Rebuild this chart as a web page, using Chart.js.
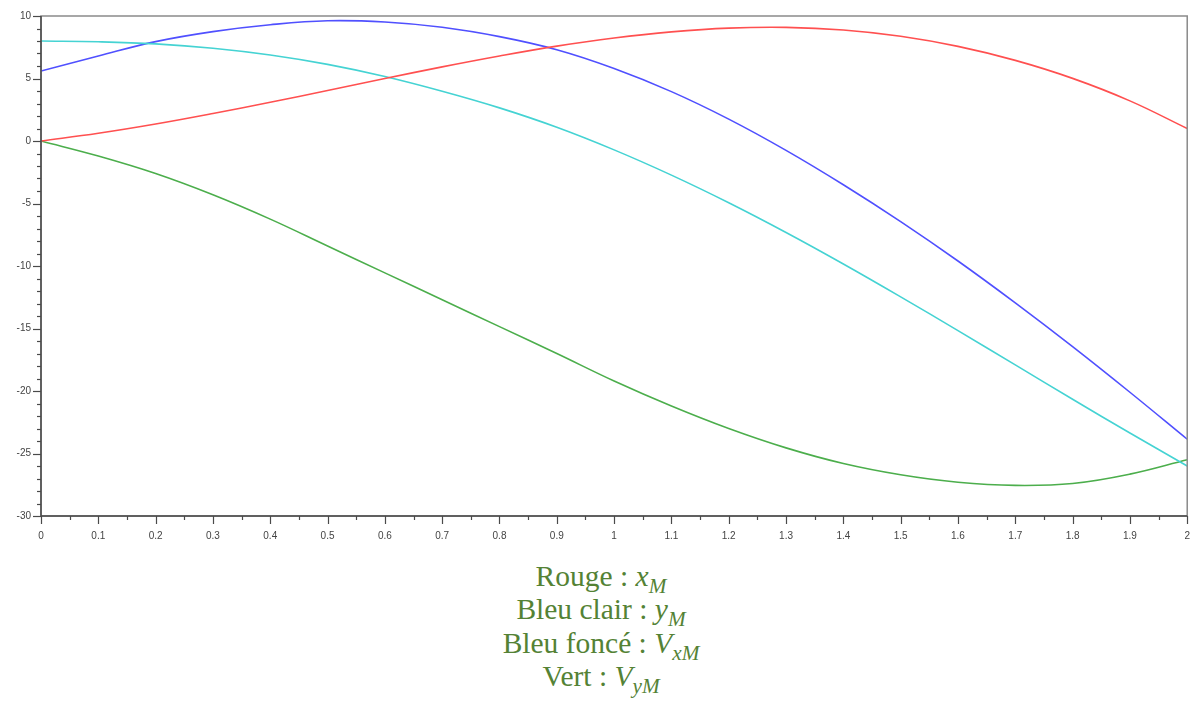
<!DOCTYPE html>
<html>
<head>
<meta charset="utf-8">
<script src="https://cdn.jsdelivr.net/npm/chart.js@4.4.1/dist/chart.umd.min.js"></script>
<style>
  body { margin: 0; background: #fff; width: 1196px; height: 711px; overflow: hidden; position: relative; }
  #wrap { position: absolute; left: 0; top: 0; width: 1204px; height: 556px; }
  #legend { position: absolute; left: 3px; top: 560px; width: 1196px; text-align: center;
            font-family: "Liberation Serif", serif; font-size: 29.5px; line-height: 33.3px; color: #548235; }
  #legend i { font-style: italic; }
  #legend sub { font-size: 72%; vertical-align: -0.35em; line-height: 0; font-style: italic; }
</style>
</head>
<body>
<div id="wrap"><canvas id="chart"></canvas></div>
<div id="legend">
  <div>Rouge : <i>x</i><sub>M</sub></div>
  <div>Bleu clair : <i>y</i><sub>M</sub></div>
  <div>Bleu foncé : <i>V</i><sub>xM</sub></div>
  <div>Vert : <i>V</i><sub>yM</sub></div>
</div>
<script>
// time (s)
var t = [0, 0.1, 0.2, 0.3, 0.4, 0.5, 0.6, 0.7, 0.8, 0.9, 1, 1.1, 1.2, 1.3, 1.4, 1.5, 1.6, 1.7, 1.8, 1.9, 2];

// values
var xM  = [0, 0.62, 1.36, 2.2, 3.1, 4.04, 5.0, 5.93, 6.8, 7.59, 8.24, 8.73, 9.03, 9.09, 8.88, 8.38, 7.57, 6.45, 5.01, 3.21, 1.0];
var yM  = [8.0, 7.94, 7.77, 7.42, 6.88, 6.13, 5.16, 3.98, 2.65, 1.1, -0.71, -2.73, -4.94, -7.32, -9.84, -12.47, -15.17, -17.91, -20.66, -23.36, -26.0];
var VxM = [5.6, 6.8, 7.95, 8.75, 9.3, 9.62, 9.52, 9.1, 8.35, 7.3, 5.8, 3.95, 1.75, -0.75, -3.5, -6.45, -9.6, -12.95, -16.45, -20.1, -23.86];
var VyM = [0, -1.2, -2.6, -4.3, -6.25, -8.4, -10.55, -12.7, -14.85, -17.0, -19.2, -21.2, -23.0, -24.55, -25.8, -26.7, -27.3, -27.55, -27.4, -26.65, -25.5];

function pts(arr) {
    return t.map((x, i) => ({x: x, y: arr[i]}));
}

function line(data, color) {
    return {
        data: pts(data),
        borderColor: color,
        borderWidth: 1.6,
        pointRadius: 0,
        tension: 0.4,
        fill: false
    };
}

// axis frame + major/minor ticks, scilab style
var framePlugin = {
    id: 'frame',
    afterDraw: function(chart) {
        var ctx = chart.ctx;
        var a = chart.chartArea;
        var xs = chart.scales.x, ys = chart.scales.y;
        ctx.save();
        ctx.strokeStyle = '#8a8a8a';
        ctx.lineWidth = 1.5;
        ctx.strokeRect(a.left, a.top, a.right - a.left, a.bottom - a.top);

        ctx.strokeStyle = '#4a4a4a';
        ctx.lineWidth = 1.5;
        ctx.beginPath();
        ctx.moveTo(a.left, a.top);
        ctx.lineTo(a.left, a.bottom);
        ctx.lineTo(a.right, a.bottom);
        ctx.stroke();

        ctx.lineWidth = 1.2;
        for (var v = -30; v <= 10; v++) {
            var py = Math.round(ys.getPixelForValue(v)) + 0.5;
            var len = (v % 5 === 0) ? 8 : 4;
            ctx.beginPath();
            ctx.moveTo(a.left - len, py);
            ctx.lineTo(a.left, py);
            ctx.stroke();
        }
        for (var k = 0; k <= 40; k++) {
            var px = Math.round(xs.getPixelForValue(k * 0.05)) + 0.5;
            var l2 = (k % 2 === 0) ? 8 : 4;
            ctx.beginPath();
            ctx.moveTo(px, a.bottom);
            ctx.lineTo(px, a.bottom + l2);
            ctx.stroke();
        }
        ctx.restore();
    }
};

var ctx = document.getElementById('chart').getContext('2d');
var chart = new Chart(ctx, {
    type: 'line',
    data: {
        datasets: [
            line(xM, '#ff5050'),
            line(yM, '#45d3d3'),
            line(VxM, '#5050ff'),
            line(VyM, '#4cae4c')
        ]
    },
    options: {
        responsive: true,
        maintainAspectRatio: false,
        animation: false,
        layout: { padding: { top: 14, right: 0, left: 0, bottom: 0 } },
        plugins: { legend: { display: false }, tooltip: { enabled: false } },
        scales: {
            x: {
                type: 'linear',
                min: 0,
                max: 2,
                grid: { display: false, drawTicks: false },
                border: { display: false },
                afterFit: function(s) { s.height = 40; },
                ticks: {
                    stepSize: 0.1,
                    padding: 14,
                    color: '#444',
                    font: { family: 'Liberation Sans', size: 10 },
                    maxRotation: 0,
                    autoSkip: false,
                    callback: function(v) { return String(parseFloat(v.toFixed(1))); }
                }
            },
            y: {
                min: -30,
                max: 10,
                grid: { display: false, drawTicks: false },
                border: { display: false },
                afterFit: function(s) { s.width = 41; },
                ticks: {
                    stepSize: 5,
                    padding: 10,
                    color: '#444',
                    font: { family: 'Liberation Sans', size: 10 }
                }
            }
        }
    },
    plugins: [framePlugin]
});
</script>
</body>
</html>
